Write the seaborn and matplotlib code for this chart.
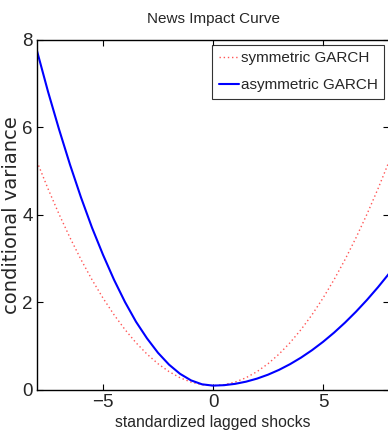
import numpy as np
import pandas as pd
import seaborn as sns
import matplotlib
matplotlib.use("Agg")
import matplotlib.pyplot as plt

shocks = [-8, -7.5, -7, -6.5, -6, -5.5, -5, -4.5, -4, -3.5, -3, -2.5, -2, -1.5, -1, -0.5,
          0, 0.5, 1, 1.5, 2, 2.5, 3, 3.5, 4, 4.5, 5, 5.5, 6, 6.5, 7, 7.5, 8]
symmetric = [5.22, 4.6, 4.02, 3.48, 2.98, 2.52, 2.1, 1.72, 1.38, 1.08, 0.82, 0.6, 0.42, 0.28, 0.18, 0.12,
             0.1, 0.12, 0.18, 0.28, 0.42, 0.6, 0.82, 1.08, 1.38, 1.72, 2.1, 2.52, 2.98, 3.48, 4.02, 4.6, 5.22]
asymmetric = [7.75, 6.82, 5.96, 5.15, 4.40, 3.71, 3.09, 2.52, 2.01, 1.56, 1.18, 0.85, 0.58, 0.37, 0.22, 0.13,
              0.1, 0.11, 0.14, 0.19, 0.26, 0.35, 0.46, 0.59, 0.74, 0.91, 1.1, 1.31, 1.54, 1.79, 2.06, 2.35, 2.66]
series_names = ["symmetric GARCH", "asymmetric GARCH"]
x_ticks = [-5, 0, 5]
y_ticks = [0, 2, 4, 6, 8]

sns.set_style("ticks")
plt.rcParams["font.family"] = ["Liberation Sans", "DejaVu Sans"]
plt.rcParams["xtick.direction"] = "in"
plt.rcParams["ytick.direction"] = "in"

df = pd.DataFrame({
    "x": shocks * 2,
    "y": symmetric + asymmetric,
    "model": [series_names[0]] * len(shocks) + [series_names[1]] * len(shocks),
})

fig = plt.figure(figsize=(3.88, 4.38), dpi=100)
ax = fig.add_axes([0.0954, 0.1096, 0.9072, 0.7991])

sns.lineplot(data=df[df.model == series_names[0]], x="x", y="y", ax=ax,
             color="#ff5555", linestyle=(0, (1, 2)), linewidth=1.0, label=series_names[0])
sns.lineplot(data=df[df.model == series_names[1]], x="x", y="y", ax=ax,
             color="#0000ff", linewidth=1.5, label=series_names[1])

ax.set_xlim(-8, 8)
ax.set_ylim(0, 8)
ax.set_xticks(x_ticks)
ax.set_yticks(y_ticks)
ax.set_xticklabels(["\u22125", "0", "5"])
ax.tick_params(axis="both", which="both", direction="in", length=4, width=0.8,
               top=True, right=True, labelsize=13.5, pad=3, color="black")
for s in ax.spines.values():
    s.set_linewidth(1.0)
    s.set_color("black")

ax.set_title("News Impact Curve", fontsize=11, pad=12)
ax.set_xlabel("standardized lagged shocks", fontsize=11.3, labelpad=3)
ax.set_ylabel("conditional variance", fontsize=14, labelpad=1,
              family=["DejaVu Sans"])

leg = ax.legend(loc="upper right", fontsize=11, frameon=True, fancybox=False,
                handlelength=1.3, handletextpad=0.12, borderpad=0.45,
                labelspacing=0.85, borderaxespad=0.3)
leg.get_frame().set_edgecolor("black")
leg.get_frame().set_linewidth(0.8)

fig.savefig("out.png", dpi=100)
